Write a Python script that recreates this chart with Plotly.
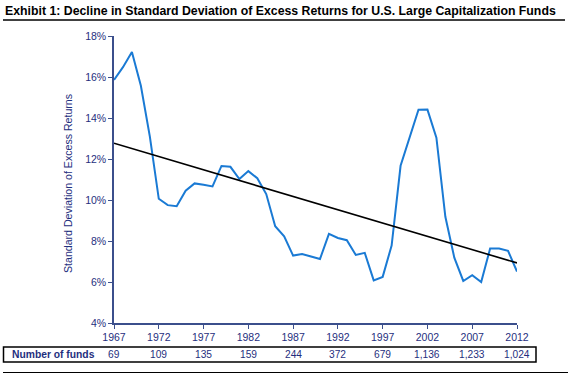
import plotly.graph_objects as go

years = list(range(1967, 2013))
std_dev = [15.86, 16.48, 17.22, 15.57, 13.1, 10.06, 9.75, 9.7, 10.45, 10.81,
           10.74, 10.66, 11.66, 11.62, 11.02, 11.41, 11.06, 10.29, 8.72, 8.23,
           7.29, 7.37, 7.24, 7.12, 8.35, 8.15, 8.04, 7.32, 7.42, 6.08,
           6.25, 7.78, 11.67, 13.09, 14.4, 14.41, 13.04, 9.18, 7.19, 6.05,
           6.33, 6.0, 7.63, 7.63, 7.52, 6.51]
trend_years = [1967, 2012]
trend_vals = [12.77, 6.93]
tick_years = [1967, 1972, 1977, 1982, 1987, 1992, 1997, 2002, 2007, 2012]
num_funds = ["69", "109", "135", "159", "244", "372", "679", "1,136", "1,233", "1,024"]

NAVY = "#1f2f7e"
AXIS = "#3b4f8c"
FONT = "Liberation Sans, Arial, Helvetica, sans-serif"

fig = go.Figure()
fig.add_trace(go.Scatter(x=years, y=std_dev, mode="lines",
                         line=dict(color="#1a7ad4", width=2), showlegend=False,
                         hoverinfo="skip"))
fig.add_trace(go.Scatter(x=trend_years, y=trend_vals, mode="lines",
                         line=dict(color="black", width=1.6), showlegend=False,
                         hoverinfo="skip"))

L, R, T, B = 114, 51, 36, 53
W, H = 568, 376
pw, ph = W - L - R, H - T - B

def px(x):
    return (x - L) / pw

def py(y):
    return (H - B - y) / ph

fig.update_layout(
    width=W, height=H,
    margin=dict(l=L, r=R, t=T, b=B),
    paper_bgcolor="white", plot_bgcolor="white",
    font=dict(family=FONT, size=10, color=NAVY),
    xaxis=dict(range=[1967, 2012], tickvals=tick_years, showgrid=False,
               zeroline=False, showline=True, linecolor=AXIS, linewidth=1.5,
               ticks="outside", ticklen=4, tickcolor=AXIS,
               tickfont=dict(size=10.5, color=NAVY, family=FONT)),
    yaxis=dict(range=[4, 18], dtick=2, ticksuffix="%", showgrid=False,
               zeroline=False, showline=True, linecolor=AXIS, linewidth=1.5,
               ticks="outside", ticklen=4, tickcolor=AXIS,
               tickfont=dict(size=10.5, color=NAVY, family=FONT)),
)

annotations = [
    dict(text="<b>Exhibit 1: Decline in Standard Deviation of Excess Returns for U.S. Large Capitalization Funds</b>",
         xref="paper", yref="paper", x=px(3), y=py(11), xanchor="left", yanchor="middle",
         showarrow=False, font=dict(size=12.3, color="black", family=FONT)),
    dict(text="Standard Deviation of Excess Returns", textangle=-90,
         xref="paper", yref="paper", x=px(68), y=py(184), xanchor="center", yanchor="middle",
         showarrow=False, font=dict(size=10.6, color=NAVY, family=FONT)),
    dict(text="<b>Number of funds</b>", xref="paper", yref="paper", x=px(10), y=py(354.5),
         xanchor="left", yanchor="middle", showarrow=False,
         font=dict(size=10.3, color=NAVY, family=FONT)),
]
for yr, n in zip(tick_years, num_funds):
    annotations.append(dict(text=n, xref="x", yref="paper", x=yr, y=py(354.5),
                            xanchor="center", yanchor="middle", showarrow=False,
                            font=dict(size=10.2, color=NAVY, family=FONT)))
fig.update_layout(annotations=annotations)

fig.update_layout(shapes=[
    dict(type="line", xref="paper", yref="paper", x0=px(3), x1=px(565), y0=py(20), y1=py(20),
         line=dict(color="black", width=1.5)),
    dict(type="rect", xref="paper", yref="paper", x0=px(3.5), x1=px(536), y0=py(362), y1=py(347),
         line=dict(color="black", width=1.5)),
    dict(type="line", xref="paper", yref="paper", x0=px(3), x1=px(568), y0=py(372.5), y1=py(372.5),
         line=dict(color="black", width=1.2)),
])

fig.write_html("out.html", config={"displayModeBar": False},
               post_script="document.body.style.margin='0';")
